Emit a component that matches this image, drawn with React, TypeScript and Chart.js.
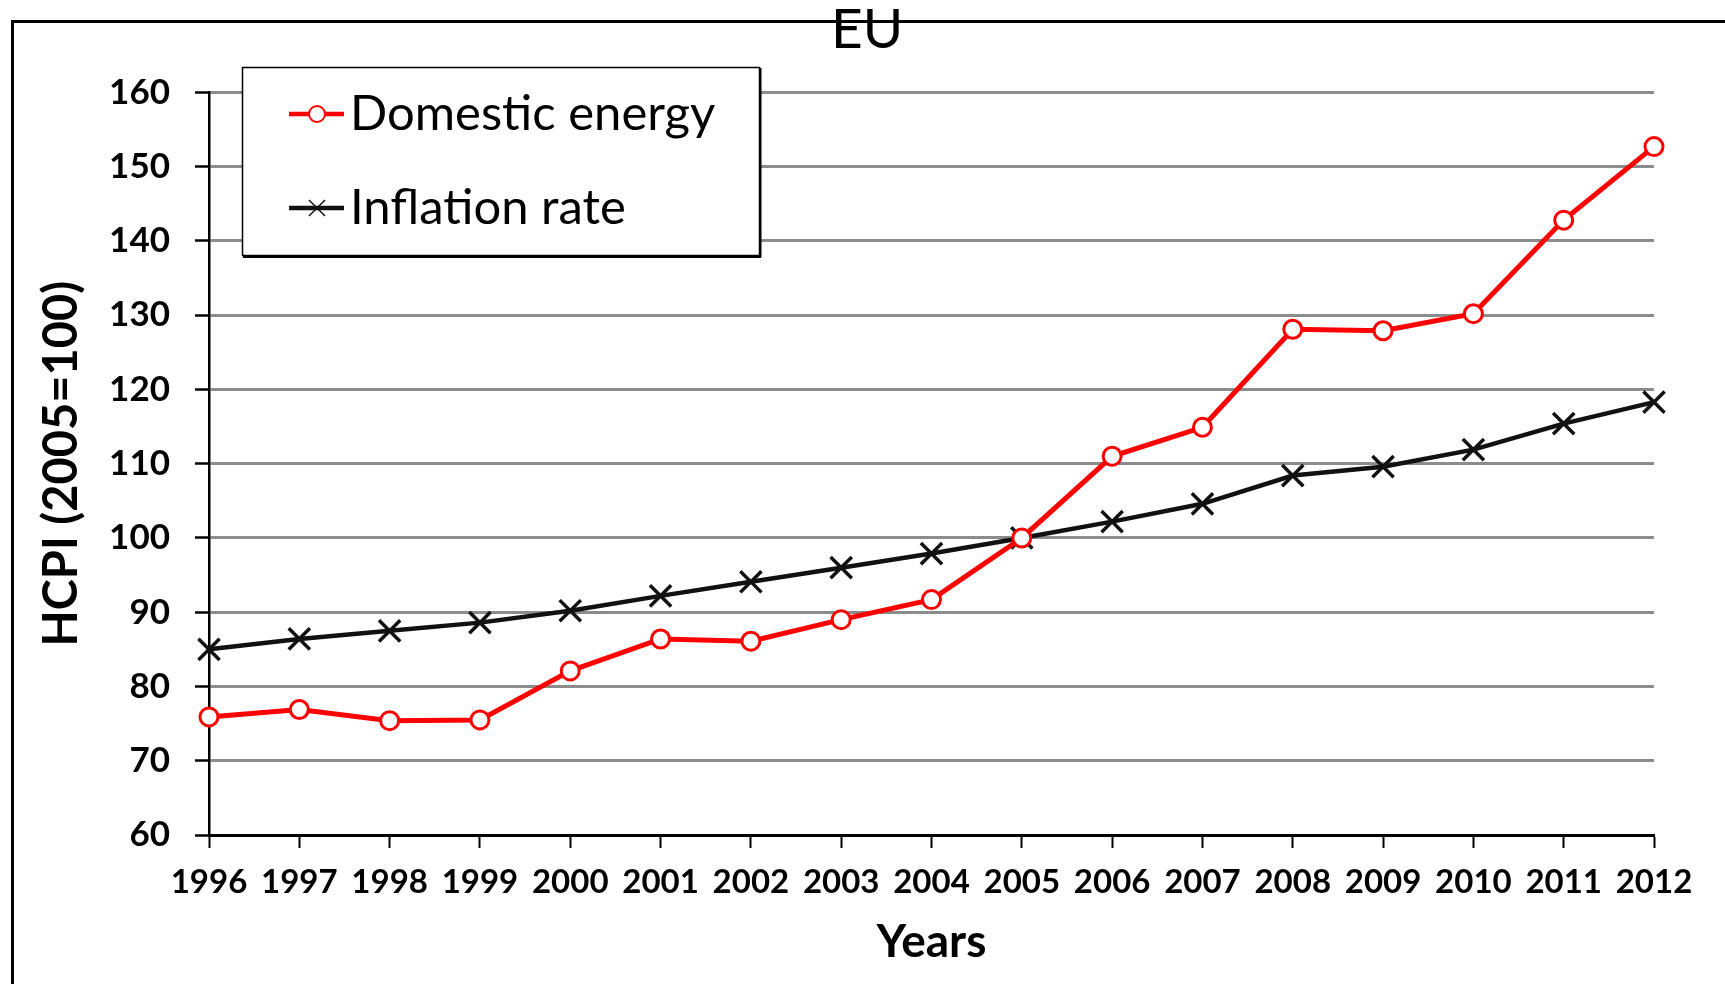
import React, { useEffect, useRef } from "react";
import { Chart, registerables } from "chart.js";

Chart.register(...registerables);

const TITLE = "EU";
const YEARS = ["1996", "1997", "1998", "1999", "2000", "2001", "2002", "2003", "2004", "2005", "2006", "2007", "2008", "2009", "2010", "2011", "2012"];
const DOMESTIC_ENERGY = [75.9, 76.9, 75.4, 75.5, 82.1, 86.4, 86.1, 89.0, 91.7, 100.0, 111.0, 114.9, 128.1, 127.9, 130.2, 142.8, 152.7];
const INFLATION_RATE = [85.0, 86.4, 87.5, 88.6, 90.2, 92.2, 94.1, 96.0, 97.9, 100.0, 102.2, 104.6, 108.4, 109.6, 111.9, 115.4, 118.3];
const SERIES_NAMES = ["Domestic energy", "Inflation rate"];
const Y_TICKS = [60, 70, 80, 90, 100, 110, 120, 130, 140, 150, 160];
const X_TITLE = "Years";
const Y_TITLE = "HCPI (2005=100)";

const FONT = "Lato";

const decorPlugin = {
  id: "decor",
  beforeDraw(chart: any) {
    const ctx = chart.ctx;
    ctx.save();
    ctx.strokeStyle = "#000";
    ctx.lineWidth = 3;
    ctx.beginPath();
    ctx.moveTo(12.5, chart.height + 5);
    ctx.lineTo(12.5, 21.5);
    ctx.lineTo(chart.width + 5, 21.5);
    ctx.stroke();
    ctx.restore();
  },
  afterDraw(chart: any) {
    const ctx = chart.ctx;
    ctx.save();
    // title
    ctx.fillStyle = "#000";
    ctx.font = `55px ${FONT}`;
    ctx.textAlign = "center";
    ctx.textBaseline = "alphabetic";
    ctx.fillText(TITLE, 867, 48);

    // legend box
    const bx = 242, by = 67, bw = 518, bh = 189;
    ctx.fillStyle = "#fff";
    ctx.fillRect(bx, by, bw, bh);
    ctx.fillStyle = "#000";
    ctx.fillRect(bx + 1, by + bh - 1, bw, 3);
    ctx.fillRect(bx + bw - 1, by + 1, 2.5, bh);
    ctx.strokeStyle = "#000";
    ctx.lineWidth = 1.5;
    ctx.strokeRect(bx + 0.5, by + 0.5, bw - 1, bh - 1);

    chart.data.datasets.forEach((ds: any, i: number) => {
      const y = 114 + i * 94;
      ctx.strokeStyle = ds.borderColor;
      ctx.lineWidth = 4.5;
      ctx.beginPath();
      ctx.moveTo(289, y);
      ctx.lineTo(344, y);
      ctx.stroke();
      const cx = 317;
      if (ds.pointStyle === "circle") {
        ctx.beginPath();
        ctx.arc(cx, y, 8, 0, Math.PI * 2);
        ctx.fillStyle = ds.pointBackgroundColor;
        ctx.fill();
        ctx.lineWidth = 2;
        ctx.strokeStyle = ds.pointBorderColor;
        ctx.stroke();
      } else {
        const r = 8;
        ctx.lineWidth = 1.5;
        ctx.strokeStyle = ds.pointBorderColor;
        ctx.beginPath();
        ctx.moveTo(cx - r, y - r);
        ctx.lineTo(cx + r, y + r);
        ctx.moveTo(cx - r, y + r);
        ctx.lineTo(cx + r, y - r);
        ctx.stroke();
      }
      ctx.fillStyle = "#000";
      ctx.font = `49px ${FONT}`;
      ctx.textAlign = "left";
      ctx.textBaseline = "alphabetic";
      ctx.fillText(ds.label, 350, y + 16);
    });
    ctx.restore();
  },
};

export default function App() {
  const canvasRef = useRef<HTMLCanvasElement | null>(null);

  useEffect(() => {
    document.body.style.margin = "0";
    document.body.style.overflow = "hidden";
    const canvas = canvasRef.current;
    if (!canvas) return;
    const chart = new Chart(canvas, {
      type: "line",
      data: {
        labels: YEARS,
        datasets: [
          {
            label: SERIES_NAMES[0],
            data: DOMESTIC_ENERGY,
            borderColor: "#ff0000",
            borderWidth: 5,
            pointStyle: "circle",
            pointRadius: 9,
            pointBackgroundColor: "#ffffff",
            pointBorderColor: "#ff0000",
            pointBorderWidth: 3,
            tension: 0,
          },
          {
            label: SERIES_NAMES[1],
            data: INFLATION_RATE,
            borderColor: "#111111",
            borderWidth: 4.5,
            pointStyle: "crossRot",
            pointRadius: 15,
            pointBackgroundColor: "#111111",
            pointBorderColor: "#111111",
            pointBorderWidth: 3.5,
            tension: 0,
          },
        ],
      },
      options: {
        responsive: false,
        animation: false,
        devicePixelRatio: 1,
        layout: { padding: { left: 34, top: 92.4, right: 71, bottom: 14 } },
        plugins: {
          legend: { display: false },
          title: { display: false },
          tooltip: { enabled: false },
        },
        scales: {
          x: {
            type: "category",
            offset: false,
            grid: {
              drawOnChartArea: false,
              drawTicks: true,
              tickLength: 13,
              tickColor: "#000",
              tickWidth: 2,
            },
            border: { display: true, color: "#000", width: 3 },
            ticks: {
              color: "#000",
              font: { family: FONT, size: 33, weight: "bold" },
              padding: 15,
              maxRotation: 0,
              autoSkip: false,
            },
            title: {
              display: true,
              text: X_TITLE,
              color: "#000",
              font: { family: FONT, size: 46, weight: "bold" },
              padding: 0,
            },
            afterFit: (s: any) => {
              s.height = 135;
            },
          },
          y: {
            min: 60,
            max: 160,
            afterBuildTicks: (s: any) => {
              s.ticks = Y_TICKS.map((v) => ({ value: v }));
            },
            ticks: {
              color: "#000",
              font: { family: FONT, size: 35, weight: "bold" },
              padding: 25,
            },
            grid: {
              color: (c: any) => (c.tick && c.tick.value === 60 ? "rgba(0,0,0,0)" : "#8c8c8c"),
              lineWidth: 3,
              drawTicks: true,
              tickLength: 14,
              tickColor: "#000",
              tickWidth: 2.5,
            },
            border: { display: true, color: "#000", width: 2.5 },
            title: {
              display: true,
              text: Y_TITLE,
              color: "#000",
              font: { family: FONT, size: 47, weight: "bold" },
              padding: 0,
            },
            afterFit: (s: any) => {
              s.width = 175;
            },
          },
        },
      },
      plugins: [decorPlugin],
    } as any);
    return () => chart.destroy();
  }, []);

  return (
    <canvas
      ref={canvasRef}
      width={1725}
      height={984}
      style={{ display: "block", width: "1725px", height: "984px" }}
    />
  );
}
